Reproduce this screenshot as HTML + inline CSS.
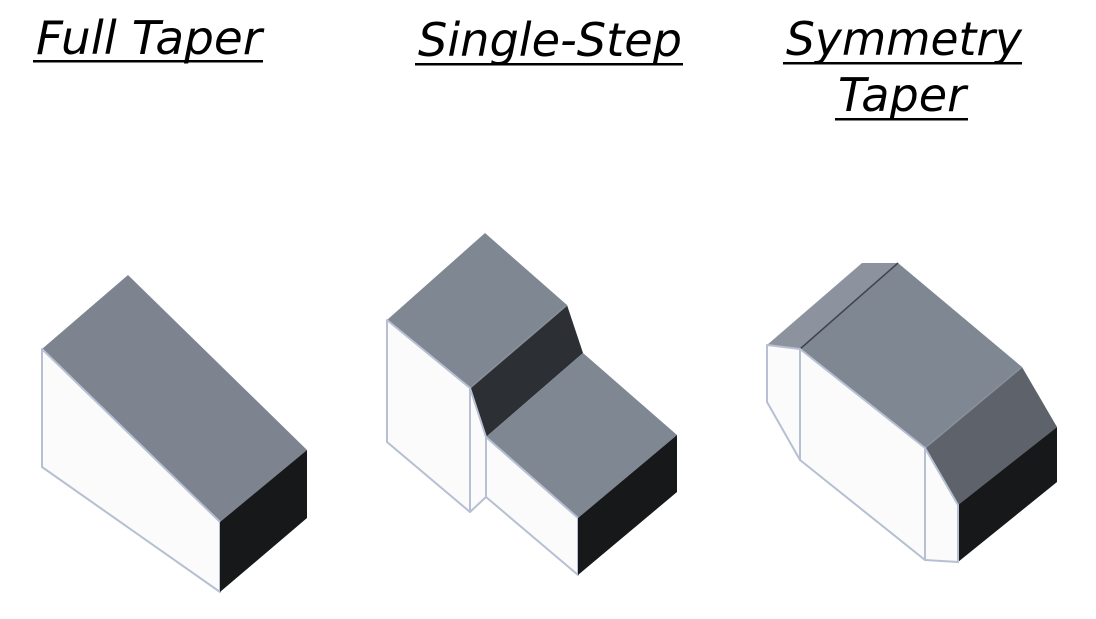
<!DOCTYPE html>
<html><head><meta charset="utf-8"><style>
html,body{margin:0;padding:0;background:#fff;}
svg{display:block;}
text{font-family:"DejaVu Sans","Liberation Sans",sans-serif;font-style:italic;font-size:46px;fill:#000;}
</style></head><body>
<svg width="1096" height="619" viewBox="0 0 1096 619" xmlns="http://www.w3.org/2000/svg">
<g stroke-linejoin="round">
<text x="36" y="54" textLength="226" lengthAdjust="spacingAndGlyphs">Full Taper</text>
<rect x="33" y="60" width="230" height="2.5" fill="#000"/>
<text x="418" y="56" textLength="264" lengthAdjust="spacingAndGlyphs">Single-Step</text>
<rect x="415" y="63" width="268" height="2.5" fill="#000"/>
<text x="786" y="55" textLength="236" lengthAdjust="spacingAndGlyphs">Symmetry</text>
<rect x="783" y="62" width="239" height="2.5" fill="#000"/>
<text x="838" y="111" textLength="128" lengthAdjust="spacingAndGlyphs">Taper</text>
<rect x="835" y="118" width="133" height="2.5" fill="#000"/>

<polygon points="128,275 307,450 220,522 42,349" fill="#7d8490"/>
<polygon points="42,349 220,522 220,592 42,467" fill="#fbfbfb" stroke="#b6c0d2" stroke-width="2"/>
<polygon points="220,522 307,450 307,518 220,592" fill="#17181a"/>

<polygon points="485,233 567,305 470,388 387,320" fill="#7f8793"/>
<polygon points="470,388 567,305 583,353 486,437" fill="#2c2f34"/>
<line x1="470" y1="388" x2="567" y2="305" stroke="#8a909a" stroke-width="1.5"/>
<polygon points="486,437 583,353 677,435 578,518" fill="#7f8793"/>
<polygon points="387,320 470,388 470,512 387,442" fill="#fbfbfb" stroke="#b6c0d2" stroke-width="2"/>
<polygon points="470,388 486,437 486,497 470,512" fill="#fbfbfb" stroke="#b6c0d2" stroke-width="2"/>
<polygon points="486,437 578,518 578,575 486,497" fill="#fbfbfb" stroke="#b6c0d2" stroke-width="2"/>
<polygon points="578,518 677,435 677,492 578,575" fill="#17181a"/>

<polygon points="862,263 898,263 800,349 767,345" fill="#8c939f"/>
<polygon points="898,263 1022,367 925,448 800,349" fill="#7f8793"/>
<line x1="898" y1="263" x2="800" y2="349" stroke="#40444a" stroke-width="1.5"/>
<polygon points="1022,367 1057,427 958,505 925,448" fill="#5d626b"/>
<line x1="1022" y1="367" x2="925" y2="448" stroke="#8a909a" stroke-width="1.5"/>
<polygon points="958,505 1057,427 1057,482 958,562" fill="#17181a"/>
<polygon points="767,345 800,349 800,460 767,402" fill="#fbfbfb" stroke="#b6c0d2" stroke-width="2"/>
<polygon points="800,349 925,448 925,560 800,460" fill="#fbfbfb" stroke="#b6c0d2" stroke-width="2"/>
<polygon points="925,448 958,505 958,562 925,560" fill="#fbfbfb" stroke="#b6c0d2" stroke-width="2"/>
</g>
</svg>
</body></html>
